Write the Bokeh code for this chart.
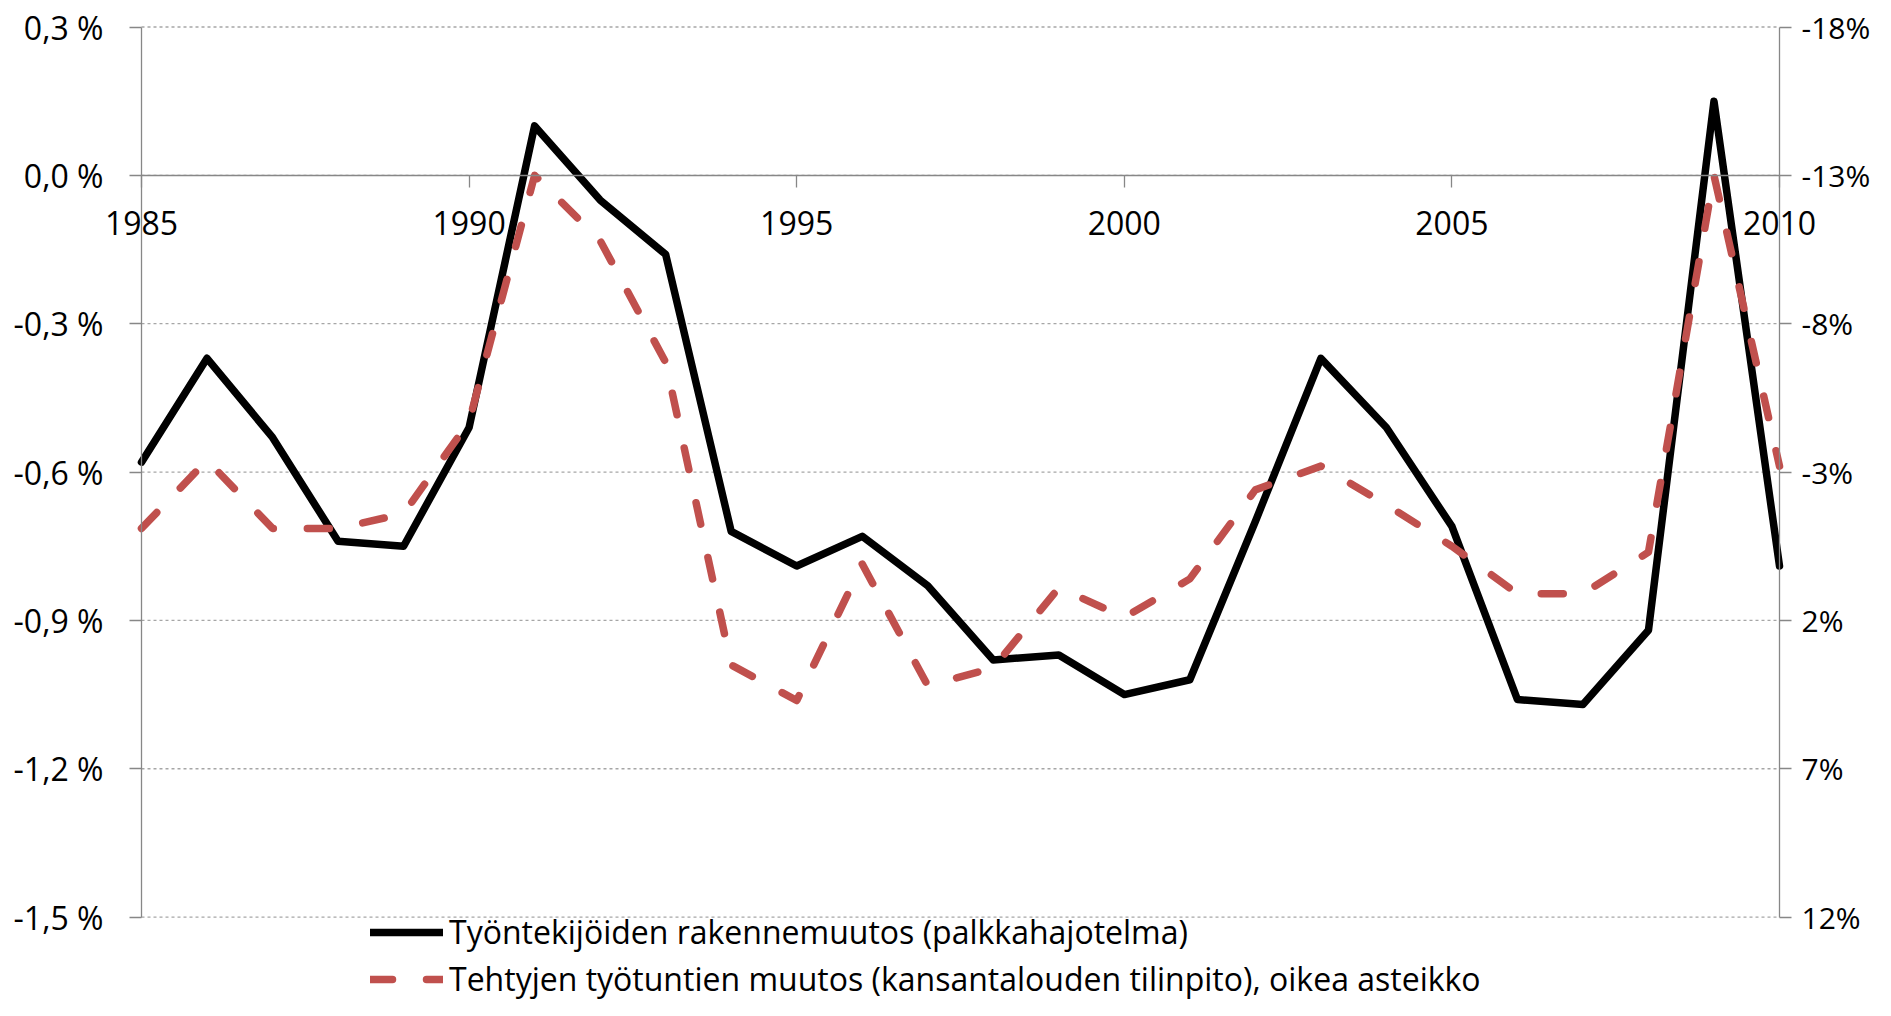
from bokeh.plotting import figure
from bokeh.models import (Range1d, LinearAxis, FixedTicker, CustomJSTickFormatter,
                          Legend, LegendItem, Grid)
from bokeh.embed import file_html
from bokeh.resources import INLINE

# ---- data ----
years = list(range(1985, 2011))
# Työntekijöiden rakennemuutos (palkkahajotelma), left axis, %
structural = [-0.58, -0.37, -0.53, -0.74, -0.75, -0.51, 0.10, -0.05, -0.16, -0.72,
              -0.79, -0.73, -0.83, -0.98, -0.97, -1.05, -1.02, -0.70, -0.37, -0.51,
              -0.71, -1.06, -1.07, -0.92, 0.15, -0.79]
# Tehtyjen työtuntien muutos (kansantalouden tilinpito), right axis (inverted), %
hours = [-1.1, -3.4, -1.1, -1.1, -1.6, -4.7, -13.0, -10.8, -6.7, 3.5,
         4.7, 0.1, 4.2, 3.6, 0.9, 1.9, 0.6, -2.4, -3.2, -1.9,
         -0.5, 1.1, 1.1, -0.3, -13.0, -3.2]

x_ticks = [1985, 1990, 1995, 2000, 2005, 2010]
left_ticks = [-1.5, -1.2, -0.9, -0.6, -0.3, 0.0, 0.3]
right_ticks = [12, 7, 2, -3, -8, -13, -18]

label_black = "Työntekijöiden rakennemuutos (palkkahajotelma)"
label_red = "Tehtyjen työtuntien muutos (kansantalouden tilinpito), oikea asteikko"

FONT = "Open Sans"
FS = "32px"
AXIS_COL = "#878787"

W, H = 1875, 1000
# pixel layout of the plotting area (figure pixels)
PX_L, PX_R, PX_T, PX_B = 141, 1779, 26.5, 916.6

x0, x1 = x_ticks[0], x_ticks[-1]
y0, y1 = left_ticks[0], left_ticks[-1]
xs = (PX_R - PX_L) / (x1 - x0)
ys = (PX_B - PX_T) / (y1 - y0)
x_range = Range1d(x0 - PX_L / xs, x1 + (W - PX_R) / xs)
y_start = y0 - (H - PX_B) / ys
y_end = y1 + PX_T / ys
y_range = Range1d(y_start, y_end)

# right axis: linear map of left axis, inverted
r_top, r_bot = right_ticks[-1], right_ticks[0]
def to_right(v):
    return r_top + (y1 - v) * (r_bot - r_top) / (y1 - y0)

p = figure(width=W, height=H, output_backend="svg", toolbar_location=None,
           x_range=x_range, y_range=y_range,
           x_axis_location=None, y_axis_location=None,
           min_border=0, min_border_left=0, min_border_right=0,
           min_border_top=0, min_border_bottom=0)
p.outline_line_color = None
p.background_fill_color = "white"
p.border_fill_color = "white"
p.extra_y_ranges = {"right": Range1d(start=to_right(y_start), end=to_right(y_end))}
for g in list(p.center):
    if isinstance(g, Grid):
        g.visible = False

def style(ax, standoff, fs=FS):
    ax.axis_line_color = AXIS_COL
    ax.axis_line_width = 1.3
    ax.major_tick_line_color = AXIS_COL
    ax.major_tick_line_width = 1.3
    ax.major_tick_out = 12
    ax.major_tick_in = 0
    ax.minor_tick_line_color = None
    ax.major_label_text_font = FONT
    ax.major_label_text_font_size = fs
    ax.major_label_text_color = "black"
    ax.major_label_standoff = standoff

# horizontal dashed gridlines (drawn first, under everything)
p.segment(x0=[x0] * len(left_ticks), x1=[x1] * len(left_ticks),
          y0=left_ticks, y1=left_ticks,
          line_color="#A6A6A6", line_width=1.3, line_dash="3 3")

left_axis = LinearAxis(ticker=FixedTicker(ticks=left_ticks), fixed_location=x0,
                       bounds=(y0, y1),
                       formatter=CustomJSTickFormatter(
                           code="return tick.toFixed(1).replace('.', ',') + ' %';"))
style(left_axis, 26)
p.add_layout(left_axis, "left")

right_axis = LinearAxis(y_range_name="right", ticker=FixedTicker(ticks=right_ticks),
                        fixed_location=x1, bounds=(r_top, r_bot),
                        formatter=CustomJSTickFormatter(
                            code="return tick.toFixed(0) + '%';"))
style(right_axis, 10, "30px")
p.add_layout(right_axis, "right")

x_axis = LinearAxis(ticker=FixedTicker(ticks=x_ticks), fixed_location=0,
                    bounds=(x0, x1))
style(x_axis, 24)
p.add_layout(x_axis, "below")

r_black = p.line(years, structural, line_color="black", line_width=7.5,
                 line_join="round", line_cap="round")
r_red = p.line(years, hours, y_range_name="right", line_color="#C0504D",
               line_width=7.5, line_dash="22 34", line_cap="round", line_join="round")

legend = Legend(items=[LegendItem(label=label_black, renderers=[r_black]),
                       LegendItem(label=label_red, renderers=[r_red])],
                location=(370, 0), orientation="vertical",
                glyph_width=73, glyph_height=30, label_height=30, spacing=4,
                label_standoff=6, padding=0, margin=0,
                border_line_color=None, background_fill_alpha=0,
                label_text_font=FONT, label_text_font_size=FS,
                label_text_color="black")
p.add_layout(legend)

open("out.html", "w").write(file_html(p, INLINE))
